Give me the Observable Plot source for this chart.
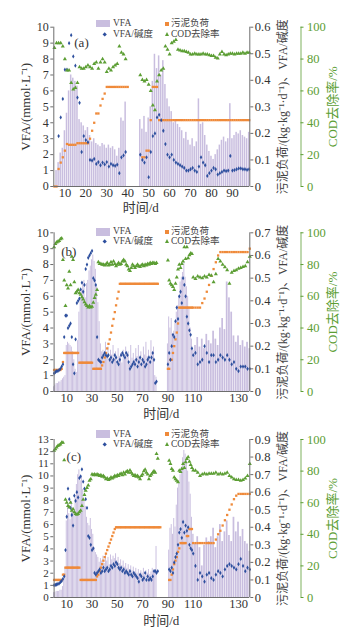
<!DOCTYPE html>
<html><head><meta charset="utf-8">
<script src="https://cdn.jsdelivr.net/npm/d3@7"></script>
<script src="https://cdn.jsdelivr.net/npm/@observablehq/plot@0.6"></script>
<style>
html,body{margin:0;padding:0;background:#fff}
#fig{position:relative;width:359px;height:632px;overflow:hidden;background:#fff;font-family:"Liberation Serif","Noto Sans CJK SC",serif}
</style></head><body><div id="fig"></div><script>
// ---------- tick labels ----------
const aXTicks = [10,20,30,40,50,60,70,80,90];
const bcXTicks = [10,30,50,70,90,110,130];
const abYTicks = [0,1,2,3,4,5,6,7,8,9,10];
const cYTicks = [0,1,2,3,4,5,6,7,8,9,10,11,12,13];
const aRTicks = [0,0.1,0.2,0.3,0.4,0.5,0.6];
const bRTicks = [0,0.1,0.2,0.3,0.4,0.5,0.6,0.7];
const cRTicks = [0,0.1,0.2,0.3,0.4,0.5,0.6,0.7,0.8,0.9];
const codTicks = [0,20,40,60,80,100];
const legendNames = ["VFA","污泥负荷","VFA/碱度","COD去除率"];

// ---------- panel (a) ----------
const aL_start = 5;
const aL_vfa = [null,1.0,1.5,2.1,2.4,3.5,4.6,6.0,7.0,6.8, 6.6,6.3,4.2,4.0,3.8,3.5,3.7,3.2,2.8,3.0, 2.7,2.6,2.5,2.7,2.6,2.4,2.6,2.4,2.5,2.3, 1.9,2.4,4.3,4.1,5.3,null];
const aL_ratio = [null,null,0.19,0.26,0.33,0.44,0.44,0.54,0.57,0.49, 0.455,0.335,0.315,0.13,0.19,0.175,0.167,0.10,0.098,0.104, 0.085,0.092,0.08,0.09,0.083,0.092,0.075,0.085,0.08,0.078, 0.082,0.05,0.11,0.117,0.13,null];
const aL_load = [0,0,0.066,0.09,0.11,0.135,0.16,0.157,0.157,0.157, 0.157,0.163,0.163,0.163,0.163,0.163,0.163,0.18,0.21,0.24, 0.275,0.275,0.305,0.33,0.35,0.375,0.375,0.375,0.375,0.375, 0.375,0.375,0.375,0.375,0.375,0.375];
const aL_cod = [87,90,90,90,88,80,73,73,65,61, 62,65,75,74,74,75,76,75,74,77, 78,74,78,80,78,72,74,73,75,76, 77,88,84,83,80,null];

const aR_start = 46;
const aR_vfa = [4.2,3.6,4.4,3.4,4.3,5.0,6.6,8.3,7.4,8.2, 7.0,7.9,6.4,5.5,5.0,4.7,4.0,4.1,3.9,3.7, 3.5,3.0,3.4,2.9,2.6,3.0,2.5,2.8,5.5,3.9, 4.0,3.2,2.6,2.2,1.9,1.7,2.0,2.3,2.6,2.9, 3.1,2.8,3.0,5.2,3.0,3.2,3.4,3.3,3.5,3.2, 3.1,3.0,3.4];
const aR_ratio = [0.12,0.10,0.09,0.11,0.035,0.13,0.19,0.20,0.26,0.27, 0.25,0.21,0.16,0.12,0.11,0.12,0.10,0.09,0.085,0.08, 0.075,0.07,0.06,0.06,0.065,0.07,0.06,0.055,0.075,0.11, 0.09,0.08,0.04,0.05,0.06,0.07,0.065,0.045,0.05,0.055, 0.06,0.058,0.06,0.115,0.06,0.062,0.065,0.068,0.068,0.065, 0.065,0.063,0.065];
const aR_load = [null,0.11,0.11,0.135,0.135,0.25,0.375,0.375,0.375,
 0.25,0.25,0.25,0.25,0.25,0.25,0.25,0.25,0.25,0.25,0.25,
 0.25,0.25,0.25,0.25,0.25,0.25,0.25,0.25,0.25,0.25,0.25,
 0.25,0.25,0.25,0.25,0.25,0.25,0.25,0.25,0.25,0.25,0.25,
 0.25,0.25,0.25,0.25,0.25,0.25,0.25,0.25,0.25,0.25,0.25];
const aR_cod = [70,67,66,67,64,60,51,48,66,70, 73,74,88,86,83,90,91,92,86,85.5, 85,85,84.5,84,83,83,83.5,83,83,83, 83.5,83,83,82.5,82,82,81,80.5,83,84.5, 83,82.5,83,83.5,83.5,83,83.5,83.5,83.5,84, 83.5,84,84];

// ---------- panel (b) ----------
const bL_start = 0;
const bL_vfa = [0.3,0.4,0.5,0.5,0.6,0.6,0.7,0.8,0.9,1.0, 2.9,3.1,3.0,2.9,2.8,2.5,2.0,1.4,1.2,3.2, 5.0,5.8,6.4,6.9,7.0,5.9,6.8,7.0,7.6,7.9, 8.3,8.6,8.2,7.7,6.6,5.6,4.4,3.0,2.5,2.6, 2.4,3.1,2.2,2.8,2.0,2.6,2.3,2.9,2.1,2.5, 1.9,2.7,2.2,2.4,1.8,2.6,2.0,2.8,2.3,2.5, 1.7,2.9,2.1,2.4,2.0,2.7,2.2,2.9,2.1,2.5, 1.9,2.8,2.3,3.1,2.2,2.6,2.0,3.2,2.4,2.8, 1.0,0.9,null];
const bL_ratio = [0.08,0.085,0.09,0.09,0.095,0.1,0.11,0.12,0.24,0.335, 0.335,0.28,0.29,0.30,0.24,0.12,0.08,0.23,0.39,0.40, 0.41,0.45,0.48,0.44,0.47,0.54,0.56,0.59,0.6,0.61, 0.62,0.5,0.49,0.47,0.24,0.14,0.135,0.13,0.15,0.16, 0.17,0.16,0.155,0.16,0.14,0.15,0.13,0.14,0.16,0.15, 0.13,0.12,0.14,0.16,0.17,0.16,0.15,0.17,0.16,0.13, 0.1,0.11,0.12,0.13,0.12,0.14,0.11,0.13,0.15,0.12, 0.14,0.13,0.11,0.12,0.14,0.15,0.13,0.15,0.17,0.14, 0.037,0.044,null];
const bL_load = [0.095,0.095,0.095,0.095,0.095,0.095,0.1,0.13,
 0.17,0.17,0.17,0.17,0.17,0.17,0.17,0.17,0.17,0.17,0.17,0.17,
 0.127,0.127,0.127,0.127,0.127,0.127,0.127,0.127,0.127,0.127,0.127,
 0.1,0.1,0.1,0.1,0.1,0.1,0.1,
 0.115,0.13,0.15,0.17,0.19,0.21,0.23,0.26,0.29,0.32,0.35,0.38,0.41,0.44,
 0.475,0.475,0.475,0.475,0.475,0.475,0.475,0.475,0.475,0.475,0.475,
 0.475,0.475,0.475,0.475,0.475,0.475,0.475,0.475,0.475,0.475,
 0.475,0.475,0.475,0.475,0.475,0.475,0.475,0.475,0.475,0.475];
const bL_cod = [91,93,94,94.5,95,96,96.5,83,70,54, 67,65,75.6,67,85,83,69,62,63,64, 62,61,59.5,58,56.3,55,54,53,54,53, 53.5,56,59,61,64,81.5,80.5,80.5,80,80, 79.5,80,81,79.5,80,81.5,80,82,80.5,79, 80,81,80,80.5,82,83,82,80,79,77, 76,78,80,79,78,79,80,79,78.5,79.5, 80,79,80,79.5,80.5,80,81,80.5,81,81, 80.5,81,null];

const bR_start = 89;
const bR_vfa = [null,3.0,4.7,4.0,4.6,3.6,3.8,4.4,5.0,5.4,6.0, 6.9,7.2,7.5,8.1,7.2,6.6,6.0,5.2,4.0,3.3, 2.6,2.9,3.4,2.8,3.3,2.7,3.6,3.2,3.0,3.8, 3.3,2.9,4.0,4.6,3.9,6.9,5.9,5.0,3.5,3.1, 3.5,2.9,3.2,2.8,3.1,2.7];
const bR_ratio = [null,0.12,0.17,0.14,0.2,0.25,0.24,0.31,0.37,0.32,0.42, 0.44,0.39,0.5,0.47,0.42,0.33,0.3,0.27,0.25,0.19, 0.16,0.17,0.12,0.13,0.14,0.2,0.17,0.13,0.16,0.16, 0.13,0.14,0.16,0.15,0.14,0.16,0.14,0.12,0.13,0.1, 0.09,0.11,0.11,0.11,0.1,0.1];
const bR_load = [null,0.1,0.1,0.14,0.14,0.17,0.2,0.23,0.26,0.3,0.37,
 0.37,0.37,0.37,0.37,0.37,0.37,0.37,0.37,0.37,0.37,0.37,0.37,0.37,0.37,
 0.39,0.41,0.44,0.47,0.51,0.54,0.57,0.6,
 0.615,0.615,0.615,0.615,0.615,0.615,0.615,0.615,0.615,0.615,0.615,0.615,0.615,
 0.63];
const bR_cod = [null,82.6,70,68,67,66,64,68,72,77,80, 78,80.5,82,91,83.6,91,84,86,87,86.8, 72,71,72.5,72,71.5,72.5,72,73.5,73,69, 74,83.6,82,80,78.4,76.5,68,75,76,76.5, 77.5,78,78.5,79,81.5,85];

// ---------- panel (c) ----------
const cL_start = 0;
const cL_vfa = [0.4,0.4,0.5,0.5,0.5,0.6,0.6,0.9,1.5,2.5, 6.3,7.7,6.9,6.4,7.9,7.2,7.1,8.2,9.3,10.1, 10.5,9.6,9.9,8.9,7.9,7.5,6.6,6.1,5.9,6.5, 5.6,5.2,4.1,3.7,3.5,3.3,2.9,3.2,3.0,3.4, 2.8,3.6,3.0,3.3,2.7,3.5,3.1,3.4,3.2,3.6, 3.0,3.3,2.8,3.1,2.6,3.0,2.5,2.8,2.4,2.7, 2.3,2.6,2.2,2.5,2.1,2.4,2.0,2.3,1.9,2.2, 2.0,2.4,1.8,2.2,2.0,2.3,1.9,2.1,2.4,2.0, 2.3,4.2,null,null,null];
const cL_ratio = [0.07,0.072,0.074,0.077,0.08,0.087,0.094,0.106,0.12,0.27, 0.46,0.62,0.56,0.51,0.47,0.41,0.58,0.55,0.6,0.57, 0.68,0.69,0.73,0.66,0.62,0.56,0.51,0.35,0.34,0.3, 0.27,0.28,0.14,0.13,0.14,0.15,0.16,0.14,0.15,0.17, 0.15,0.16,0.17,0.15,0.16,0.18,0.17,0.19,0.18,0.2, 0.19,0.17,0.16,0.17,0.15,0.16,0.14,0.15,0.14,0.13, 0.15,0.13,0.12,0.14,0.13,0.12,0.11,0.09,0.13,0.12, 0.1,0.11,0.14,0.1,0.12,0.1,0.11,0.1,0.12,0.15, 0.15,0.14,0.15,null,null];
const cL_load = [0.1,0.1,0.1,0.1,0.1,0.1,0.1,0.13,0.13,
 0.17,0.17,0.17,0.17,0.17,0.17,0.17,0.17,0.17,0.17,0.17,0.17,
 0.1,0.1,0.1,0.1,0.1,0.1,0.1,0.1,0.1,0.1,0.1,0.1,0.1,
 0.12,0.13,0.15,0.17,0.19,0.21,0.23,0.25,0.27,0.29,0.31,0.33,0.35,0.37,0.39,
 0.4,0.4,0.4,0.4,0.4,0.4,0.4,0.4,0.4,0.4,0.4,0.4,
 0.4,0.4,0.4,0.4,0.4,0.4,0.4,0.4,0.4,0.4,0.4,0.4,
 0.4,0.4,0.4,0.4,0.4,0.4,0.4,0.4,0.4,0.4,0.4,0.4];
const cL_cod = [93,94,95,96,96.5,97,98,98,87,62, 60,58,57,60,55,56,54,53,52.5,53, 54,55,58,62,65,67.7,69.4,71,74,75, 78,77.5,78,77.5,78,77.5,77,77.5,76.5,77, 76,75,75.5,74.5,75,76,75.5,76,77,76.5, 77.5,77,78,78.5,77.5,79,78,79.5,80,79, 80.5,79,78,77,77.5,76.5,77,76,75,77, 78,80,81,79,78,75,77,78,79,80, 79,91,88,null,null];

const cR_start = 89;
const cR_vfa = [null,null,3.9,5.7,6.0,5.2,6.5,5.8,7.6,9.0,9.6,10.1, 10.7,11.5,12.1,11.8,11.4,10.4,9.5,8.5,6.6,5.2, 4.4,5.0,4.1,2.6,4.3,4.9,4.6,5.0,5.7,4.1, 5.0,6.0,4.6,5.4,6.3,5.1,4.6,6.6,5.4,6.2, 5.0,5.6,4.6,4.4,3.8];
const cR_ratio = [null,null,0.16,0.15,0.17,0.14,0.2,0.23,0.25,0.3,0.37,0.39, 0.34,0.43,0.37,0.41,0.38,0.4,0.3,0.28,0.27,0.25, 0.18,0.1,0.14,0.12,0.09,0.13,0.14,0.11,0.1,0.13, 0.15,0.14,0.12,0.16,0.18,0.19,0.18,0.17,0.16,0.19, 0.22,0.18,0.15,0.17,0.16];
const cR_load = [null,null,0.1,0.1,0.13,0.16,0.19,0.21,0.23,0.26,0.28,
 0.31,0.31,0.31,0.31,0.31,0.35,0.35,0.39,0.39,0.39,
 0.31,0.31,0.31,0.31,0.31,0.31,0.31,0.31,0.31,0.31,
 0.33,0.36,0.38,0.41,0.44,0.47,0.5,0.53,0.56,0.58,
 0.59,0.59,0.59,0.59,0.59,0.59];
const cR_cod = [null,null,86.7,84.6,81.4,80.4,76,75,74,73,80.4,79.5, 81.4,84.6,82,85.7,87.8,88.8,86,84,82,80.5, 80.4,79,77,78,78.5,78,78.5,78.5,78.5,79, 78,78.5,78,78.5,79,77,76,75,74.5,74.5, 74,74.5,75.5,77,84.6];

// ---------- styling ----------
const BAR = "#c9bedf", ORANGE = "#ef8a3a", BLUE = "#2d4f9e", GREEN = "#5c9e34", AXIS = "#6d6d6d", TXT = "#333";
const FONT = '"Liberation Serif","Noto Sans CJK SC",serif';

const panels = [
  {tag:"(a)", top:0, height:215, mt:26.7, mb:29, yMax:10, yTicks:abYTicks, yFont:12, rTicks:aRTicks, rMax:0.6,
   xDomain:[4.7,98.3], xRange:[53.3,249.3], xTicks:aXTicks, bw:0.36,
   segs:[{start:aL_start,vfa:aL_vfa,ratio:aL_ratio,load:aL_load,cod:aL_cod},{start:aR_start,vfa:aR_vfa,ratio:aR_ratio,load:aR_load,cod:aR_cod}],
   tagDx:27.7, tagDy:16, tdx:-11, tdy:21, lg1:23.5, lg2:34.3},
  {tag:"(b)", top:215, height:207, mt:17.3, mb:31, yMax:10, yTicks:abYTicks, yFont:12, rTicks:bRTicks, rMax:0.7,
   xDomain:[0,110,130,135], xRange:[53.6,192.7,238,249.3], xTicks:bcXTicks, bw:0.38,
   segs:[{start:bL_start,vfa:bL_vfa,ratio:bL_ratio,load:bL_load,cod:bL_cod},{start:bR_start,vfa:bR_vfa,ratio:bR_ratio,load:bR_load,cod:bR_cod}],
   tagDx:15, tagDy:19.4, tdx:9.5, tdy:22, lg1:231.7, lg2:241.7},
  {tag:"(c)", top:422, height:210, mt:17, mb:35, yMax:13, yTicks:cYTicks, yFont:11, rTicks:cRTicks, rMax:0.9,
   xDomain:[0,110,130,135], xRange:[53.6,192.7,238,249.3], xTicks:bcXTicks, bw:0.38,
   segs:[{start:cL_start,vfa:cL_vfa,ratio:cL_ratio,load:cL_load,cod:cL_cod},{start:cR_start,vfa:cR_vfa,ratio:cR_ratio,load:cR_load,cod:cR_cod}],
   tagDx:20, tagDy:17.7, tdx:9.5, tdy:23.5, lg1:434, lg2:444.3}
];

const fig = document.getElementById("fig");
const fmtR = v => { const r = Math.round(v * 10) / 10; return r === 0 ? "0" : r.toFixed(1); };

function addLegend(y1, y2) {
  const mk = (css, txt) => { const d = document.createElement("div"); d.style.cssText = "position:absolute;" + css; if (txt) d.textContent = txt; fig.appendChild(d); };
  const tcss = y => `top:${y - 5.5}px;font-size:9.5px;line-height:11px;color:#444;white-space:nowrap;font-family:${FONT};`;
  mk(`left:96px;top:${y1 - 3.7}px;width:14px;height:7.5px;background:${BAR}`);
  mk(`left:113px;` + tcss(y1), legendNames[0]);
  mk(`left:165px;top:${y1 - 2}px;width:4px;height:4px;background:${ORANGE}`);
  mk(`left:171px;` + tcss(y1), legendNames[1]);
  mk(`left:103.3px;top:${y2 - 1.7}px;width:3.4px;height:3.4px;background:${BLUE};transform:rotate(45deg)`);
  mk(`left:113px;` + tcss(y2), legendNames[2]);
  mk(`left:164.8px;top:${y2 - 2.6}px;width:0;height:0;border-left:2.6px solid transparent;border-right:2.6px solid transparent;border-bottom:4.6px solid ${GREEN}`);
  mk(`left:171px;` + tcss(y2), legendNames[3]);
}

for (const p of panels) {
  const rows = [];
  for (const s of p.segs) s.vfa.forEach((v, i) => rows.push({day: s.start + i, vfa: v, ratio: s.ratio[i], load: s.load[i], cod: s.cod[i]}));
  const rk = p.yMax / p.rMax, gk = p.yMax / 100;
  const xs = d3.scaleLinear(p.xDomain, p.xRange);
  const gx = xs.invert(300.5), gx2 = xs.invert(303.5), gxt = xs.invert(306.5);
  const x0 = p.xDomain[0], x1 = p.xDomain[p.xDomain.length - 1];
  const mid = {textAnchor: "middle", lineAnchor: "middle"};
  const el = Plot.plot({
    width: 359, height: p.height, marginTop: p.mt, marginBottom: p.mb, marginLeft: 53.3, marginRight: 109.7,
    style: {fontFamily: FONT, fontSize: "12px", color: TXT, background: "transparent", overflow: "visible"},
    x: {type: "linear", domain: p.xDomain, range: p.xRange, axis: null, label: null},
    y: {domain: [0, p.yMax], axis: null, label: null},
    marks: [
      Plot.rect(rows.filter(d => d.vfa != null), {x1: d => d.day - p.bw, x2: d => d.day + p.bw, y1: () => 0, y2: "vfa", fill: BAR}),
      Plot.dot(rows.filter(d => d.load != null), {x: "day", y: d => d.load * rk, symbol: "square", r: 1.3, fill: ORANGE}),
      Plot.dot(rows.filter(d => d.ratio != null), {x: "day", y: d => d.ratio * rk, symbol: "diamond", r: 1.3, fill: BLUE}),
      Plot.dot(rows.filter(d => d.cod != null), {x: "day", y: d => d.cod * gk, symbol: "triangle", r: 1.5, fill: GREEN}),
      Plot.ruleX([x0], {stroke: AXIS}),
      Plot.ruleX([x1], {stroke: AXIS}),
      Plot.ruleY([0], {stroke: AXIS}),
      Plot.axisX(p.xTicks, {label: null, tickSize: 0, tickPadding: 2, fontSize: 12.5}),
      Plot.axisY(p.yTicks, {label: null, anchor: "left", tickSize: 3, tickPadding: 2, stroke: AXIS, fontSize: p.yFont}),
      Plot.axisY(p.rTicks.map(v => v * rk), {label: null, anchor: "right", tickSize: 3, tickPadding: 2, stroke: AXIS, fontSize: 12.5, tickFormat: d => fmtR(d / rk)}),
      Plot.ruleX([gx], {stroke: GREEN, strokeOpacity: 0.8}),
      Plot.ruleY(codTicks.map(v => v * gk), {x1: () => gx, x2: () => gx2, stroke: GREEN}),
      Plot.text(codTicks, {x: () => gxt, y: d => d * gk, text: d => String(d), textAnchor: "start", fill: GREEN, fontSize: 12.5}),
      Plot.text(["VFA/(mmol·L⁻¹)"], {...mid, frameAnchor: "left", dx: -27.5, rotate: -90, fontSize: 13, fill: TXT}),
      Plot.text(["污泥负荷/(kg·kg⁻¹·d⁻¹)、VFA/碱度"], {...mid, frameAnchor: "right", dx: 33.7, rotate: -90, fontSize: 12, fill: "#444"}),
      Plot.text(["COD去除率/%"], {...mid, frameAnchor: "right", dx: 83.5, rotate: -90, fontSize: 13, fill: GREEN}),
      Plot.text(["时间/d"], {...mid, frameAnchor: "bottom", dx: p.tdx, dy: p.tdy, fontSize: 13, fill: TXT}),
      Plot.text([p.tag], {...mid, frameAnchor: "top-left", dx: p.tagDx, dy: p.tagDy, fontSize: 13, fill: TXT})
    ]
  });
  el.style.position = "absolute"; el.style.left = "0px"; el.style.top = p.top + "px";
  fig.appendChild(el);
  addLegend(p.lg1, p.lg2);
}
</script></body></html>
